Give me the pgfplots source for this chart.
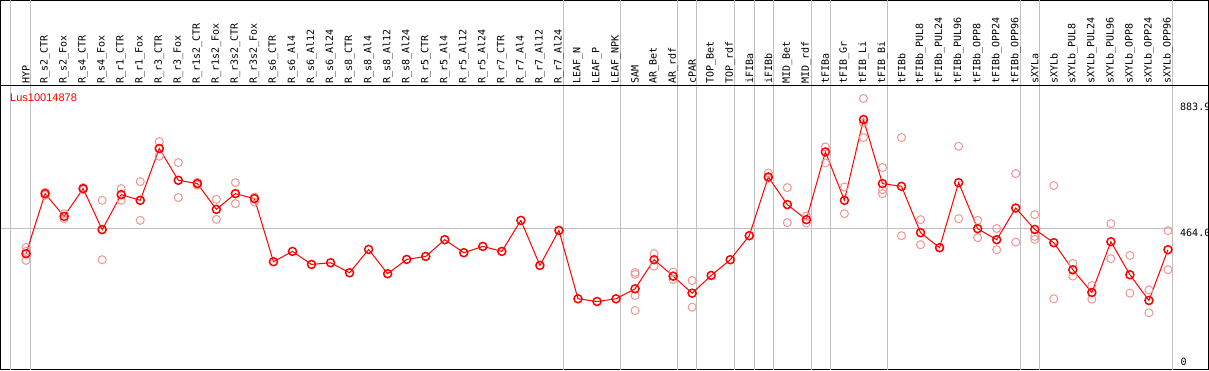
\documentclass[border=0pt]{standalone}
\usepackage{pgfplots}
\pgfplotsset{compat=1.18}
\usepackage{pgfplotstable}
\usepackage{fontspec}
\setmainfont{Liberation Sans}
\newfontfamily\monofont{DejaVu Sans Mono}
\definecolor{meanred}{RGB}{255,0,0}
\definecolor{repred}{RGB}{240,150,150}
\definecolor{gridgray}{RGB}{192,192,192}

\pgfplotstableread{
x y
0 378.6
1 580.1
2 503.9
3 596.9
4 459.2
5 576.7
6 557.6
7 731.3
8 624.8
9 613.7
10 527.4
11 580.1
12 563.3
13 351.7
14 386.3
15 342.6
16 348.3
17 314.7
18 393.0
19 311.4
20 359.4
21 369.5
22 425.6
23 381.9
24 403.1
25 386.3
26 490.4
27 339.3
28 456.8
29 227.4
30 218.3
31 227.4
32 261.0
33 358.4
34 303.3
35 246.2
36 305.7
37 358.4
38 439.0
39 635.9
40 543.2
41 492.8
42 719.8
43 557.6
44 828.7
45 613.7
46 604.6
47 449.1
48 398.7
49 617.0
50 462.5
51 425.6
52 531.7
53 460.2
54 415.5
55 324.8
56 248.6
57 418.9
58 308.0
59 221.7
60 392.0
}\means

\pgfplotstableread{
x y
0 399.7
0 386.3
0 356.1
1 584.5
1 574.4
2 512.9
2 496.1
3 600.3
3 593.5
4 557.6
4 358.4
4 460.2
5 596.9
5 557.6
5 576.7
6 620.4
6 490.4
6 557.6
7 754.8
7 705.4
7 732.0
8 684.2
8 566.7
9 618.0
9 608.0
10 561.0
10 493.8
11 617.1
11 546.5
12 568.7
12 551.9
32 315.7
32 309.0
32 238.5
32 188.1
33 378.6
33 337.0
34 316.8
34 292.2
35 288.9
35 199.2
38 439.0
39 649.3
39 631.5
40 600.3
40 482.7
41 504.9
41 481.3
42 736.6
42 682.9
43 602.3
43 512.9
44 899.2
44 768.2
44 817.3
45 667.4
45 593.5
45 580.1
46 768.2
46 439.0
47 492.8
47 408.8
48 398.7
49 739.0
49 496.1
50 490.4
50 432.3
51 463.2
51 392.0
52 647.3
52 417.5
53 509.6
53 436.7
53 426.6
54 607.0
54 227.4
55 346.0
55 303.3
56 272.1
56 226.1
57 479.3
57 361.8
58 372.8
58 246.2
59 257.6
59 180.4
60 455.8
60 324.8
}\reps

\newcommand{\lab}[2]{\node[rotate=90, anchor=west, inner sep=0pt, font=\monofont\fontsize{10bp}{12bp}\selectfont] at (axis cs:#1,949) {#2};}

\begin{document}
\begin{tikzpicture}
\begin{axis}[
  scale only axis, width=1206bp, height=368.5bp,
  xmin=-1.342, xmax=62.13, ymin=-10.08, ymax=1227.7,
  xtick=\empty, ytick=\empty,
  axis line style={black, line width=1bp},
  clip=false,
]
\draw[gridgray, line width=1bp] (axis cs:-1.342,464) -- (axis cs:60.25,464);
\pgfplotsinvokeforeach{-0.82,0.25,28.25,31.25,34.25,35.25,37.25,38.25,39.25,41.25,42.25,45.25,52.25,53.25,60.25}{
  \draw[gridgray, line width=1bp] (axis cs:#1,-10.08) -- (axis cs:#1,1227.7);
}
\draw[black, line width=1bp] (axis cs:-1.342,943.9) -- (axis cs:62.13,943.9);

\addplot[only marks, mark=o, mark size=4bp, draw=repred, mark options={draw=repred, line width=1bp}] table {\reps};
\addplot[draw=meanred, line width=1bp, mark=o, mark size=4bp, mark options={draw=meanred, line width=1.5bp}] table {\means};

\lab{0}{HYP}
\lab{1}{R\_s2\_CTR}
\lab{2}{R\_s2\_Fox}
\lab{3}{R\_s4\_CTR}
\lab{4}{R\_s4\_Fox}
\lab{5}{R\_r1\_CTR}
\lab{6}{R\_r1\_Fox}
\lab{7}{R\_r3\_CTR}
\lab{8}{R\_r3\_Fox}
\lab{9}{R\_r1s2\_CTR}
\lab{10}{R\_r1s2\_Fox}
\lab{11}{R\_r3s2\_CTR}
\lab{12}{R\_r3s2\_Fox}
\lab{13}{R\_s6\_CTR}
\lab{14}{R\_s6\_Al4}
\lab{15}{R\_s6\_Al12}
\lab{16}{R\_s6\_Al24}
\lab{17}{R\_s8\_CTR}
\lab{18}{R\_s8\_Al4}
\lab{19}{R\_s8\_Al12}
\lab{20}{R\_s8\_Al24}
\lab{21}{R\_r5\_CTR}
\lab{22}{R\_r5\_Al4}
\lab{23}{R\_r5\_Al12}
\lab{24}{R\_r5\_Al24}
\lab{25}{R\_r7\_CTR}
\lab{26}{R\_r7\_Al4}
\lab{27}{R\_r7\_Al12}
\lab{28}{R\_r7\_Al24}
\lab{29}{LEAF\_N}
\lab{30}{LEAF\_P}
\lab{31}{LEAF\_NPK}
\lab{32}{SAM}
\lab{33}{AR\_Bet}
\lab{34}{AR\_rdf}
\lab{35}{cPAR}
\lab{36}{TOP\_Bet}
\lab{37}{TOP\_rdf}
\lab{38}{iFIBa}
\lab{39}{iFIBb}
\lab{40}{MID\_Bet}
\lab{41}{MID\_rdf}
\lab{42}{tFIBa}
\lab{43}{tFIB\_Gr}
\lab{44}{tFIB\_Li}
\lab{45}{tFIB\_Bi}
\lab{46}{tFIBb}
\lab{47}{tFIBb\_PUL8}
\lab{48}{tFIBb\_PUL24}
\lab{49}{tFIBb\_PUL96}
\lab{50}{tFIBb\_OPP8}
\lab{51}{tFIBb\_OPP24}
\lab{52}{tFIBb\_OPP96}
\lab{53}{sXYLa}
\lab{54}{sXYLb}
\lab{55}{sXYLb\_PUL8}
\lab{56}{sXYLb\_PUL24}
\lab{57}{sXYLb\_PUL96}
\lab{58}{sXYLb\_OPP8}
\lab{59}{sXYLb\_OPP24}
\lab{60}{sXYLb\_OPP96}

\node[anchor=base west, inner sep=0pt, font=\monofont\fontsize{10bp}{12bp}\selectfont] at (axis cs:60.63,858.2) {883.9};
\node[anchor=base west, inner sep=0pt, font=\monofont\fontsize{10bp}{12bp}\selectfont] at (axis cs:60.63,435.0) {464.0};
\node[anchor=base west, inner sep=0pt, font=\monofont\fontsize{10bp}{12bp}\selectfont] at (axis cs:60.66,2.4) {0};
\node[anchor=base west, inner sep=0pt, text=meanred, font=\fontsize{11bp}{13bp}\selectfont] at (axis cs:-0.842,887.8) {Lus10014878};
\end{axis}
\pgfresetboundingbox
\path[use as bounding box] ([shift={(-0.5bp,-0.5bp)}]current axis.south west) rectangle ([shift={(0.5bp,0.5bp)}]current axis.north east);
\end{tikzpicture}
\end{document}
